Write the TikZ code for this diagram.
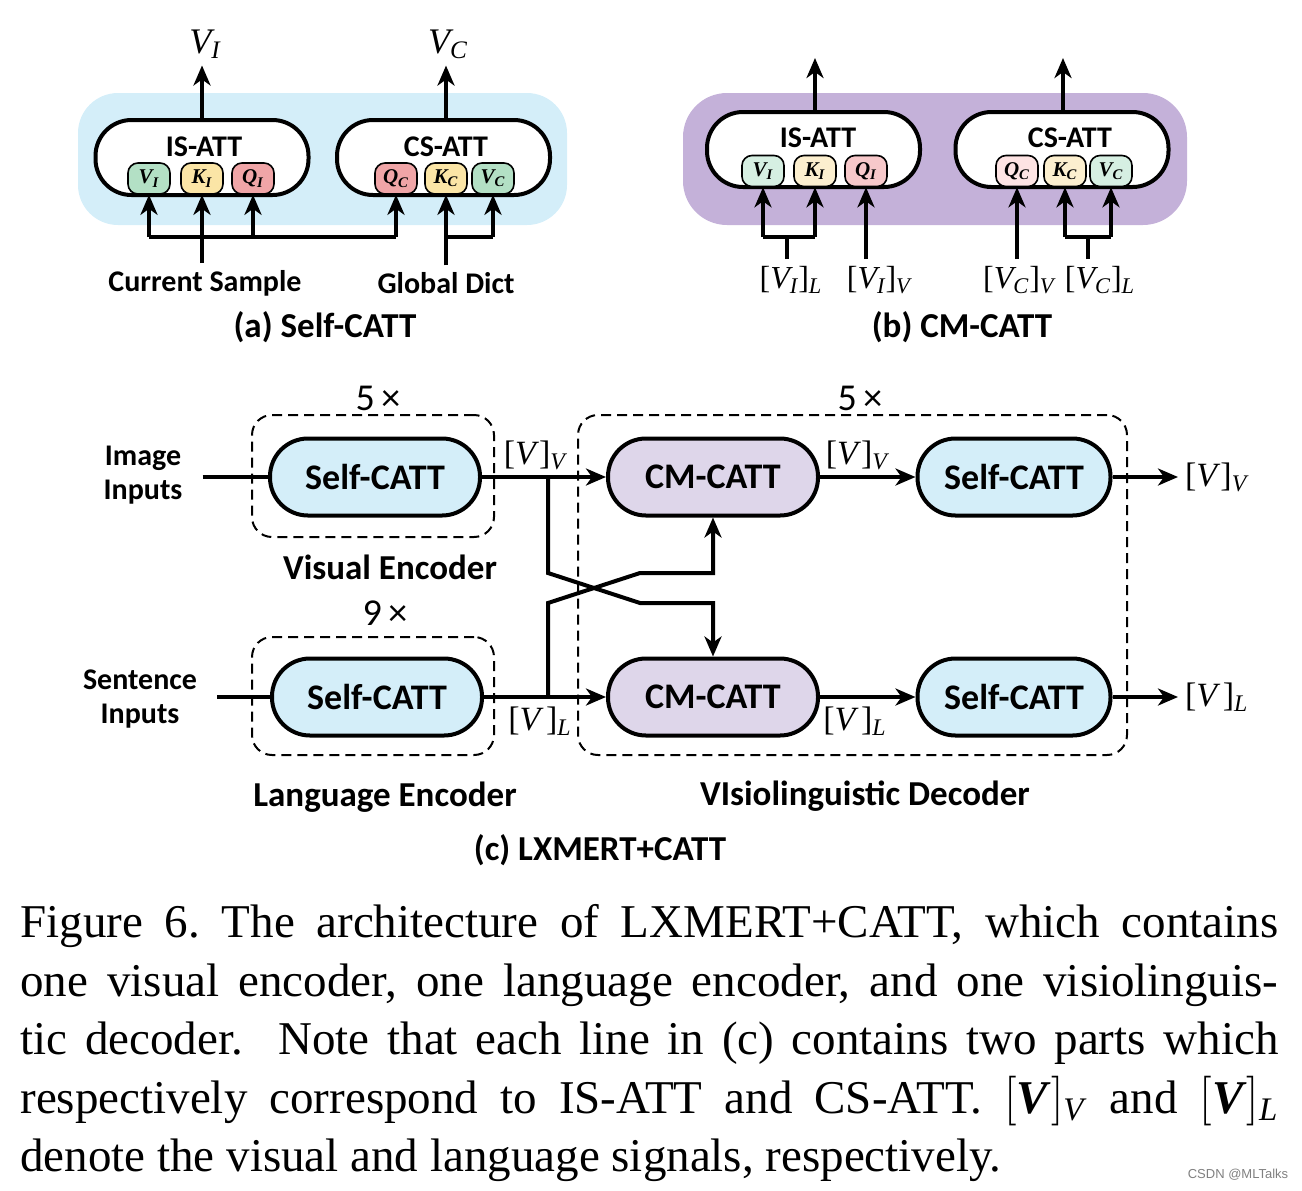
\documentclass[tikz,border=0pt]{standalone}
\usepackage{fontspec}
\usepackage{amsmath}
\setmainfont{Liberation Serif}
\newfontfamily\calibri{Carlito}
\newfontfamily\wmfont{Liberation Sans}
\usetikzlibrary{arrows.meta,positioning}

\definecolor{selfblue}{HTML}{D4EEF9}
\definecolor{cmlilac}{HTML}{DED6EA}
\definecolor{bgpurple}{HTML}{C4B1D9}
\definecolor{keygreen}{HTML}{B3E0C5}
\definecolor{keyyellow}{HTML}{FBE5A6}
\definecolor{keyred}{HTML}{F0A5A7}
\definecolor{palegreen}{HTML}{D6EFE2}
\definecolor{paleyellow}{HTML}{FCEFCF}
\definecolor{palered}{HTML}{F7C8CA}
\definecolor{palepink}{HTML}{FDE3E3}

\newcommand{\sig}[2]{[\textit{#1}]\textsubscript{\textit{#2}}}

\tikzset{
  attpill/.style={draw, line width=2pt, fill=white, rounded corners=18pt, minimum width=106.5pt, minimum height=37.5pt},
  blockpill/.style={draw, line width=2pt, rounded corners=19pt, minimum width=105pt, minimum height=38.5pt, font=\calibri\bfseries\fontsize{18}{21}\selectfont},
  keybox/.style={draw, line width=0.8pt, rounded corners=5pt, minimum width=21pt, minimum height=15.5pt, inner sep=0pt, font=\bfseries\itshape\fontsize{10.5}{12}\selectfont},
  arr/.style={line width=2pt, -{Stealth[length=10pt, width=8.5pt, inset=3pt]}},
  wire/.style={line width=2pt},
  repeatgroup/.style={draw, line width=1pt, dash pattern=on 5pt off 3pt, rounded corners=10pt},
  inlbl/.style={font=\calibri\bfseries\fontsize{15}{17}\selectfont},
  siglbl/.style={font=\fontsize{17}{20}\selectfont},
  inputsig/.style={font=\fontsize{16}{19}\selectfont},
  titlelbl/.style={font=\calibri\bfseries\fontsize{17.5}{21}\selectfont},
  replbl/.style={font=\calibri\fontsize{19}{22}\selectfont},
}

\begin{document}
\begin{tikzpicture}[x=0.5pt, y=-0.5pt]
\useasboundingbox (0,0) rectangle (1302,1190);

% (a) Self-CATT
\fill[selfblue, rounded corners=20pt] (78,93) rectangle (567,225);
\node[attpill] (isa) at (202,157.5) {};
\node[attpill] (csa) at (443.5,157.5) {};
\node[inlbl] (isatxt) at (204,147) {IS-ATT};
\node[inlbl] (csatxt) at (446,147) {CS-ATT};
\foreach \nm/\x/\col/\k/\s in {via/149/keygreen/V/I, kia/202/keyyellow/K/I, qia/253/keyred/Q/I,
                               qca/396/keyred/Q/C, kca/446/keyyellow/K/C, vca/493/keygreen/V/C}
  \node[keybox, fill=\col] (\nm) at (\x,178.5) {\k\textsubscript{\s}};

\node[font=\itshape\fontsize{18}{20}\selectfont] (outia) at (205,44) {V\textsubscript{I}};
\node[font=\itshape\fontsize{18}{20}\selectfont] (outca) at (448,44) {V\textsubscript{C}};
\draw[arr] (isa.north) -- (isa.north |- outia.south);
\draw[arr] (kca.north |- csa.north) -- (kca.north |- outca.south);

\node[inlbl] (cursamp) at (205,283) {Current Sample};
\node[inlbl] (gdict) at (446,283) {Global Dict};
\coordinate (busa) at (0,237);
\draw[wire] (via.south |- busa) -- (qca.south |- busa);
\draw[wire] (kca.south |- busa) -- (vca.south |- busa);
\foreach \nm in {via,qia,qca,vca}
  \draw[arr] (\nm.south |- busa) -- (\nm.south);
\draw[arr] (kia.south |- cursamp.north) -- (kia.south);
\draw[arr] (kca.south |- gdict.north) -- (kca.south);
\node[titlelbl] (capa) at (325,327) {(a) Self-CATT};

% (b) CM-CATT
\fill[bgpurple, rounded corners=22pt] (683,93) rectangle (1187,225);
\node[attpill] (isb) at (813.5,149.5) {};
\node[attpill] (csb) at (1062,149.5) {};
\node[inlbl] (isbtxt) at (818,138) {IS-ATT};
\node[inlbl] (csbtxt) at (1070,138) {CS-ATT};
\foreach \nm/\x/\col/\k/\s in {vib/763/palegreen/V/I, kib/815/paleyellow/K/I, qib/866/palered/Q/I,
                               qcb/1017/palepink/Q/C, kcb/1065/paleyellow/K/C, vcb/1111/palegreen/V/C}
  \node[keybox, fill=\col] (\nm) at (\x,171) {\k\textsubscript{\s}};

\coordinate (outib) at (815,58);
\coordinate (outcb) at (1063,58);
\draw[arr] (isb.north -| outib) -- (outib);
\draw[arr] (csb.north -| outcb) -- (outcb);

\node[inputsig] (vil) at (791,280) {\sig{V\textsubscript{I}}{L}};
\node[inputsig] (viv) at (880,280) {\sig{V\textsubscript{I}}{V}};
\node[inputsig] (vcv) at (1020,280) {\sig{V\textsubscript{C}}{V}};
\node[inputsig] (vcl) at (1100,280) {\sig{V\textsubscript{C}}{L}};
\coordinate (busb) at (0,237);
\coordinate (stemi) at (787,0);
\coordinate (stemc) at (1088,0);
\draw[wire] (vib.south |- busb) -- (kib.south |- busb);
\draw[wire] (kcb.south |- busb) -- (vcb.south |- busb);
\draw[wire] (stemi |- vil.north) -- (stemi |- busb);
\draw[wire] (stemc |- vcl.north) -- (stemc |- busb);
\foreach \nm in {vib,kib,kcb,vcb}
  \draw[arr] (\nm.south |- busb) -- (\nm.south);
\draw[arr] (qib.south |- viv.north) -- (qib.south);
\draw[arr] (qcb.south |- vcv.north) -- (qcb.south);
\node[titlelbl] (capb) at (962,327) {(b) CM-CATT};

% (c) LXMERT+CATT
\node[repeatgroup, minimum width=121pt, minimum height=61pt] (vgrp) at (373,476) {};
\node[repeatgroup, minimum width=121pt, minimum height=59pt] (lgrp) at (373,696) {};
\node[repeatgroup, minimum width=274.5pt, minimum height=170pt] (dgrp) at (852.5,585) {};
\node[replbl] (vrep) at (378,398) {5\,×};
\node[replbl] (lrep) at (385,613) {9\,×};
\node[replbl] (drep) at (860,398) {5\,×};

\node[blockpill, fill=selfblue] (venc) at (375,477) {Self-CATT};
\node[blockpill, fill=selfblue] (lenc) at (377,697) {Self-CATT};
\node[blockpill, fill=cmlilac] (cmt) at (713,477) {CM-CATT};
\node[blockpill, fill=cmlilac] (cmb) at (713,697) {CM-CATT};
\node[blockpill, fill=selfblue, minimum width=96.5pt] (sft) at (1014,477) {Self-CATT};
\node[blockpill, fill=selfblue, minimum width=96.5pt] (sfb) at (1014,697) {Self-CATT};

\node[inlbl, align=center, inner sep=10pt] (imgin) at (143,475) {Image\\Inputs};
\node[inlbl, align=center, inner sep=10pt] (senin) at (140,699) {Sentence\\Inputs};
\draw[wire] (imgin.east |- venc) -- (venc.west);
\draw[wire] (senin.east |- lenc) -- (lenc.west);

\coordinate (brv) at (548,477);
\coordinate (brl) at (548,697);
\draw[arr] (venc.east) -- (cmt.west);
\draw[arr] (lenc.east) -- (cmb.west);
\draw[arr] (brv) -- (548,573) -- (640,603) -| (cmb.north);
\draw[arr] (brl) -- (548,603) -- (640,573) -| (cmt.south);
\node[siglbl] (sv1) at (536,455) {\sig{V}{V}};
\node[siglbl] (sl1) at (540,721) {\sig{V\,}{L}};

\draw[arr] (cmt) -- (sft);
\draw[arr] (cmb) -- (sfb);
\node[siglbl] (sv2) at (858,455) {\sig{V}{V}};
\node[siglbl] (sl2) at (855,721) {\sig{V\,}{L}};

\node[siglbl, anchor=west] (outv) at (1178,477) {\sig{V}{V}};
\node[siglbl, anchor=west] (outl) at (1178,697) {\sig{V\,}{L}};
\draw[arr] (sft.east) -- (outv.west);
\draw[arr] (sfb.east) -- (outl.west);

\node[titlelbl] (venctxt) at (390,567) {Visual Encoder};
\node[titlelbl] (lenctxt) at (385,797) {Language Encoder};
\node[titlelbl] (dectxt) at (865,796) {VIsiolinguistic Decoder};
\node[titlelbl] (capc) at (600,850) {(c) LXMERT+CATT};

% caption
\node[anchor=north west, text width=629pt, align=justify, inner sep=0pt,
      font=\fontsize{23.5}{29.25}\selectfont\frenchspacing] (figcap) at (20,904)
  {Figure 6. The architecture of LXMERT+CATT, which contains\linebreak
   one visual encoder, one language encoder, and one visiolinguis-\linebreak
   tic decoder.\ \ Note that each line in (c) contains two parts which\linebreak
   respectively correspond to IS-ATT and CS-ATT. $[\text{\textbf{\textit{V}}}]_{\text{\textit{V}}}$ and $[\text{\textbf{\textit{V}}}]_{\text{\textit{L}}}$\linebreak
   denote the visual and language signals, respectively.};
\node[font=\wmfont\fontsize{6.5}{7}\selectfont, text=gray] (wmark) at (1238,1175) {CSDN @MLTalks};
\end{tikzpicture}
\end{document}
